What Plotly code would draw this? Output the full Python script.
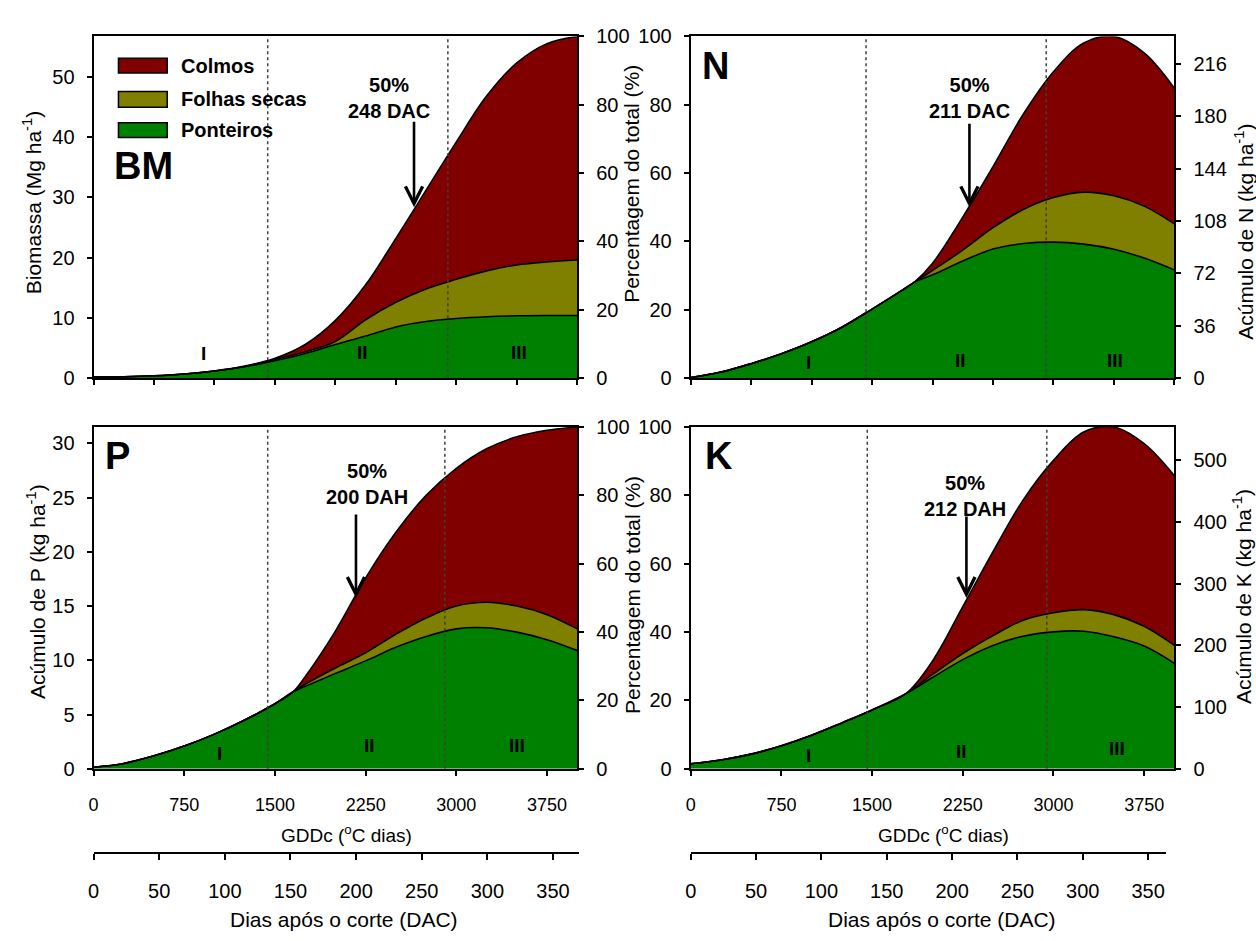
import plotly.graph_objects as go

W, H = 1256, 941
FONT = "Liberation Sans, Arial, sans-serif"

COR_COLMOS = "#800000"
COR_FOLHAS = "#808000"
COR_PONTEIROS = "#008000"

# ---- Biomassa (Mg ha-1) ----
gdd_bm = [0, 250, 500, 750, 1000, 1250, 1500, 1750, 2000, 2250, 2500, 2750,
          3000, 3250, 3500, 3750, 4000]
bm_ponteiros = [0.20, 0.25, 0.40, 0.70, 1.20, 1.90, 2.90, 4.10, 5.60, 7.00, 8.50,
                9.40, 9.90, 10.20, 10.35, 10.40, 10.40]
bm_folhas = [0, 0, 0, 0, 0, 0.05, 0.20, 0.30, 0.50, 2.70, 4.10, 5.40, 6.50, 7.60,
             8.45, 8.90, 9.20]
bm_colmos = [0, 0, 0, 0, 0, 0.05, 0.20, 1.20, 3.50, 5.80, 10.60, 16.40, 22.80,
             29.00, 33.50, 36.20, 37.10]

# ---- Nitrogênio (kg ha-1) ----
gdd_n = [0, 250, 500, 750, 1000, 1250, 1500, 1750, 1850, 2000, 2250, 2500, 2750,
         3000, 3250, 3500, 3750, 4000]
n_ponteiros = [0.5, 4.2, 10.0, 16.8, 25.0, 35.0, 47.5, 60.5, 66.0, 71.0, 80.5,
               88.8, 92.5, 93.5, 92.1, 88.6, 82.5, 74.3]
n_folhas = [0, 0, 0, 0, 0, 0, 0, 0, 0, 3.0, 7.5, 14.6, 23.4, 30.6, 35.7, 36.7,
            35.7, 31.7]
n_colmos = [0, 0, 0, 0, 0, 0, 0, 0, 0, 5.0, 22.7, 41.9, 65.4, 86.4, 102.5, 109.5,
            105.3, 93.2]

# ---- Fósforo (kg ha-1) ----
gdd_p = [0, 250, 500, 750, 1000, 1250, 1500, 1650, 1750, 2000, 2250, 2500, 2750,
         3000, 3250, 3500, 3750, 4000]
p_ponteiros = [0.15, 0.5, 1.2, 2.1, 3.2, 4.5, 6.0, 7.1, 7.6, 8.8, 9.95, 11.2,
               12.2, 12.9, 13.0, 12.6, 11.9, 10.9]
p_folhas = [0, 0, 0, 0, 0, 0, 0, 0, 0.2, 0.5, 0.75, 1.2, 1.7, 2.1, 2.35, 2.4,
            2.3, 2.0]
p_colmos = [0, 0, 0, 0, 0, 0, 0, 0, 0.7, 3.4, 6.9, 9.4, 11.3, 12.7, 14.15, 15.6,
            17.0, 18.6]

# ---- Potássio (kg ha-1) ----
gdd_k = [0, 250, 500, 750, 1000, 1250, 1500, 1780, 2000, 2250, 2500, 2750, 3000,
         3250, 3500, 3750, 4000]
k_ponteiros = [8.3, 14.4, 23.9, 37.5, 54.5, 74.5, 95.5, 122, 148, 177, 200, 215,
               222, 223, 214, 199, 171]
k_folhas = [0, 0, 0, 0, 0, 0, 0, 0, 5, 10, 16, 26, 31, 35, 36, 32, 29]
k_colmos = [0, 0, 0, 0, 0, 0, 0, 0, 22, 76, 136, 195, 247, 288, 304, 296, 275]

# limites entre as fases I, II e III (GDDc)
fases_bm = [1440, 2930]
fases_n = [1450, 2940]
fases_p = [1440, 2905]
fases_k = [1460, 2945]

# momento em que se atinge 50% do acúmulo total (GDDc)
meio_bm, meio_n, meio_p, meio_k = 2650, 2305, 2170, 2280

# eixo de dias após o corte
dac_esq = [0, 370]
dac_dir = [0, 364]


def paper_x(px):
    return px / W


def paper_y(py):
    return 1 - py / H


def ref(prefix, n):
    return prefix if n == 1 else f"{prefix}{n}"


panels = [
    dict(gdd=gdd_bm, comp=(bm_ponteiros, bm_folhas, bm_colmos), fases=fases_bm,
         meio=meio_bm, box=(88, 574, 26, 376), abs_side="left", dtick_abs=10,
         dtick_x=500, xlabels=False, seta_ay=-84,
         texto="<b>50%<br>248 DAC</b>", texto_pos=(385, 89),
         letra="<b>BM</b>", letra_pos=(138, 159),
         romanos=[(198, 351), (358, 350), (515, 350)]),
    dict(gdd=gdd_n, comp=(n_ponteiros, n_folhas, n_colmos), fases=fases_n,
         meio=meio_n, box=(688, 1174, 26, 376), abs_side="right", dtick_abs=36,
         dtick_x=500, xlabels=False, seta_ay=-82,
         texto="<b>50%<br>211 DAC</b>", texto_pos=(968, 89),
         letra="<b>N</b>", letra_pos=(713, 56),
         romanos=[(806, 360), (959, 358), (1114, 358)]),
    dict(gdd=gdd_p, comp=(p_ponteiros, p_folhas, p_colmos), fases=fases_p,
         meio=meio_p, box=(88, 574, 426, 776), abs_side="left", dtick_abs=5,
         dtick_x=750, xlabels=True, seta_ay=-82,
         texto="<b>50%<br>200 DAH</b>", texto_pos=(363, 484),
         letra="<b>P</b>", letra_pos=(112, 456),
         romanos=[(215, 760), (365, 752), (513, 752)]),
    dict(gdd=gdd_k, comp=(k_ponteiros, k_folhas, k_colmos), fases=fases_k,
         meio=meio_k, box=(688, 1174, 426, 776), abs_side="right", dtick_abs=100,
         dtick_x=750, xlabels=True, seta_ay=-80,
         texto="<b>50%<br>212 DAH</b>", texto_pos=(964, 497),
         letra="<b>K</b>", letra_pos=(716, 456),
         romanos=[(806, 762), (960, 758), (1116, 755)]),
]

fig = go.Figure()
annotations = []
shapes = []
layout = {}

axis_common = dict(showline=True, linewidth=2, linecolor="black", showgrid=False,
                   zeroline=False, ticks="outside", ticklen=5, tickwidth=1.5,
                   tickcolor="black", tickfont=dict(size=20, color="black"))

for i, pn in enumerate(panels):
    xn, ya, yp = i + 1, 2 * i + 1, 2 * i + 2
    xr, yar, ypr = ref("x", xn), ref("y", ya), ref("y", yp)
    x0, x1, ytop, ybot = pn["box"]

    ponteiros, folhas, colmos = pn["comp"]
    total = [a + b + c for a, b, c in zip(ponteiros, folhas, colmos)]
    vmax = max(total)

    for vals, cor, nome in ((ponteiros, COR_PONTEIROS, "Ponteiros"),
                            (folhas, COR_FOLHAS, "Folhas secas"),
                            (colmos, COR_COLMOS, "Colmos")):
        fig.add_trace(go.Scatter(
            x=pn["gdd"], y=vals, name=nome, xaxis=xr, yaxis=yar,
            stackgroup=f"g{i}", mode="lines", fillcolor=cor,
            line=dict(color="black", width=1.6, shape="spline", smoothing=1.0),
            showlegend=False, hoverinfo="skip"))

    # total em percentagem do máximo, no eixo secundário (sem traço visível)
    fig.add_trace(go.Scatter(
        x=pn["gdd"], y=[100 * t / vmax for t in total], xaxis=xr, yaxis=ypr,
        mode="lines", line=dict(width=0), opacity=0, showlegend=False,
        hoverinfo="skip"))

    layout[ref("xaxis", xn)] = dict(
        axis_common, domain=[paper_x(x0), paper_x(x1)], anchor=yar,
        range=[0, 4000], tick0=0, dtick=pn["dtick_x"], mirror=True,
        showticklabels=pn["xlabels"], ticklabelstandoff=14,
        tickfont=dict(size=18, color="black"))
    layout[ref("yaxis", ya)] = dict(
        axis_common, domain=[paper_y(ybot), paper_y(ytop)], anchor=xr,
        range=[0, vmax], tick0=0, dtick=pn["dtick_abs"], side=pn["abs_side"],
        ticklabelstandoff=8)
    layout[ref("yaxis", yp)] = dict(
        axis_common, overlaying=yar, anchor=xr, range=[0, 100], tick0=0, dtick=20,
        side="right" if pn["abs_side"] == "left" else "left",
        ticklabelstandoff=8)

    for f in pn["fases"]:
        shapes.append(dict(type="line", xref=xr, yref=f"{yar} domain", x0=f, x1=f,
                           y0=0, y1=1, layer="above",
                           line=dict(color="#404040", width=1.5, dash="dot")))

    # seta apontando o ponto de 50% do acúmulo total
    annotations.append(dict(x=pn["meio"], y=0.5 * vmax, xref=xr, yref=yar,
                            text="&nbsp;", showarrow=True, ax=0,
                            ay=pn["seta_ay"] - 14, arrowhead=5, arrowsize=1.3,
                            arrowwidth=2.6, arrowcolor="black", standoff=0,
                            font=dict(size=20)))
    tx, ty = pn["texto_pos"]
    annotations.append(dict(x=paper_x(tx), y=paper_y(ty), xref="paper", yref="paper",
                            text=pn["texto"], showarrow=False, xanchor="center",
                            yanchor="middle", font=dict(size=20, color="black")))
    lx, ly = pn["letra_pos"]
    annotations.append(dict(x=paper_x(lx), y=paper_y(ly), xref="paper", yref="paper",
                            text=pn["letra"], showarrow=False, xanchor="center",
                            yanchor="middle", font=dict(size=38, color="black")))
    for (rx, ry), rom in zip(pn["romanos"], ("I", "II", "III")):
        annotations.append(dict(x=paper_x(rx), y=paper_y(ry), xref="paper",
                                yref="paper", text=f"<b>{rom}</b>", showarrow=False,
                                xanchor="center", yanchor="middle",
                                font=dict(size=19, color="black")))

# eixos de dias após o corte
for n, yn, dom, faixa in ((5, 9, (88, 576), dac_esq), (6, 10, (688, 1166), dac_dir)):
    fig.add_trace(go.Scatter(x=faixa, y=[0, 0], xaxis=f"x{n}", yaxis=f"y{yn}",
                             mode="markers", marker=dict(opacity=0),
                             showlegend=False, hoverinfo="skip"))
    layout[f"xaxis{n}"] = dict(axis_common, domain=[paper_x(dom[0]), paper_x(dom[1])],
                               anchor="free", position=paper_y(862), range=faixa,
                               tick0=0, dtick=50, ticklen=6, ticklabelstandoff=14)
    layout[f"yaxis{yn}"] = dict(domain=[0, 0.02], anchor=f"x{n}", visible=False)

# títulos dos eixos
titulos = [
    ("Biomassa (Mg ha<sup>-1</sup>)", 27, 196, -90, 21),
    ("Percentagem do total (%)", 629, 177, -90, 21),
    ("Percentagem do total (%)", 629, 598, -90, 21),
    ("Acúmulo de N (kg ha<sup>-1</sup>)", 1244, 226, -90, 21),
    ("Acúmulo de P (kg ha<sup>-1</sup>)", 30, 594, -90, 21),
    ("Acúmulo de K (kg ha<sup>-1</sup>)", 1242, 600, -90, 21),
    ("GDDc (<sup>o</sup>C dias)", 342, 843, 0, 19),
    ("GDDc (<sup>o</sup>C dias)", 942, 843, 0, 19),
    ("Dias após o corte (DAC)", 340, 930, 0, 21),
    ("Dias após o corte (DAC)", 940, 930, 0, 21),
]
for txt, tx, ty, ang, sz in titulos:
    annotations.append(dict(x=paper_x(tx), y=paper_y(ty), xref="paper", yref="paper",
                            text=txt, showarrow=False, textangle=ang,
                            xanchor="center", yanchor="middle",
                            font=dict(size=sz, color="black")))

# legenda
legenda = [("Colmos", COR_COLMOS, 48.5, 63.5),
           ("Folhas secas", COR_FOLHAS, 82.5, 98.5),
           ("Ponteiros", COR_PONTEIROS, 114.5, 129.5)]
for nome, cor, y0, y1 in legenda:
    shapes.append(dict(type="rect", xref="paper", yref="paper",
                       x0=paper_x(113), x1=paper_x(162), y0=paper_y(y1), y1=paper_y(y0),
                       fillcolor=cor, line=dict(color="black", width=1.5)))
    annotations.append(dict(x=paper_x(174), y=paper_y((y0 + y1) / 2), xref="paper",
                            yref="paper", text=f"<b>{nome}</b>", showarrow=False,
                            xanchor="left", yanchor="middle",
                            font=dict(size=20, color="black")))

fig.update_layout(
    width=W, height=H, margin=dict(l=0, r=0, t=0, b=0),
    paper_bgcolor="white", plot_bgcolor="white",
    font=dict(family=FONT, size=20, color="black"),
    showlegend=False, annotations=annotations, shapes=shapes, **layout)

fig.write_html("out.html")
